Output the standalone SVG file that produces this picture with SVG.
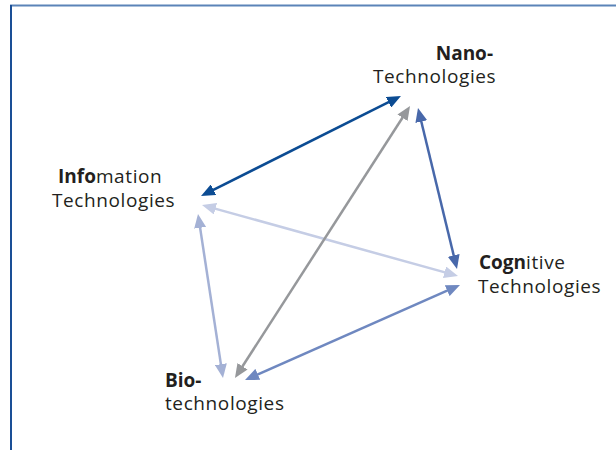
<svg xmlns="http://www.w3.org/2000/svg" width="616" height="450" viewBox="0 0 616 450">
  <style>
    .lbl { font-family: "Open Sans", "DejaVu Sans", sans-serif; font-size: 19px; fill: #231f20; letter-spacing: 0.6px; }
    .b { font-weight: bold; letter-spacing: 0; }
    .link { fill: none; stroke-width: 2.5; }
  </style>
  <defs>
    <marker id="ah-dark" markerUnits="userSpaceOnUse" viewBox="0 0 14 12" markerWidth="14" markerHeight="12" refX="8" refY="6" orient="auto-start-reverse"><path d="M0,0 L14,6 L0,12 z" fill="#0c4c93"/></marker>
    <marker id="ah-gray" markerUnits="userSpaceOnUse" viewBox="0 0 14 12" markerWidth="14" markerHeight="12" refX="8" refY="6" orient="auto-start-reverse"><path d="M0,0 L14,6 L0,12 z" fill="#96989b"/></marker>
    <marker id="ah-mid" markerUnits="userSpaceOnUse" viewBox="0 0 14 12" markerWidth="14" markerHeight="12" refX="8" refY="6" orient="auto-start-reverse"><path d="M0,0 L14,6 L0,12 z" fill="#4868aa"/></marker>
    <marker id="ah-pale" markerUnits="userSpaceOnUse" viewBox="0 0 14 12" markerWidth="14" markerHeight="12" refX="8" refY="6" orient="auto-start-reverse"><path d="M0,0 L14,6 L0,12 z" fill="#c5cde5"/></marker>
    <marker id="ah-soft" markerUnits="userSpaceOnUse" viewBox="0 0 14 12" markerWidth="14" markerHeight="12" refX="8" refY="6" orient="auto-start-reverse"><path d="M0,0 L14,6 L0,12 z" fill="#a4b1d5"/></marker>
    <marker id="ah-slate" markerUnits="userSpaceOnUse" viewBox="0 0 14 12" markerWidth="14" markerHeight="12" refX="8" refY="6" orient="auto-start-reverse"><path d="M0,0 L14,6 L0,12 z" fill="#6f88c0"/></marker>
  </defs>

  <!-- frame -->
  <g id="frame">
    <line x1="10" y1="5.5" x2="616" y2="5.5" stroke="#5b84b8" stroke-width="2"/>
    <line x1="11" y1="5" x2="11" y2="450" stroke="#1a4f96" stroke-width="2"/>
  </g>

  <!-- connectors -->
  <g id="connectors">
    <line class="link" x1="206.4" y1="193.3" x2="395.6" y2="98.7" stroke="#0c4c93" marker-start="url(#ah-dark)" marker-end="url(#ah-dark)"/>
    <line class="link" x1="207.8" y1="206.6" x2="452.2" y2="274.4" stroke="#c5cde5" marker-start="url(#ah-pale)" marker-end="url(#ah-pale)"/>
    <line class="link" x1="198.9" y1="219.9" x2="222.1" y2="372.1" stroke="#a4b1d5" marker-start="url(#ah-soft)" marker-end="url(#ah-soft)"/>
    <line class="link" x1="238.2" y1="373.0" x2="406.8" y2="111.0" stroke="#96989b" marker-start="url(#ah-gray)" marker-end="url(#ah-gray)"/>
    <line class="link" x1="419.4" y1="113.8" x2="455.6" y2="263.2" stroke="#4868aa" marker-start="url(#ah-mid)" marker-end="url(#ah-mid)"/>
    <line class="link" x1="250.5" y1="377.6" x2="454.5" y2="287.4" stroke="#6f88c0" marker-start="url(#ah-slate)" marker-end="url(#ah-slate)"/>
  </g>

  <!-- nodes -->
  <g id="nano">
    <text class="lbl b" x="493" y="60" text-anchor="end">Nano-</text>
    <text class="lbl" x="373" y="83">Technologies</text>
  </g>
  <g id="info">
    <text class="lbl" x="58" y="183"><tspan class="b">Info</tspan>mation</text>
    <text class="lbl" x="52" y="207">Technologies</text>
  </g>
  <g id="cognitive">
    <text class="lbl" x="479" y="269"><tspan class="b">Cogn</tspan>itive</text>
    <text class="lbl" x="478" y="293">Technologies</text>
  </g>
  <g id="bio">
    <text class="lbl b" x="165" y="387">Bio-</text>
    <text class="lbl" x="165" y="410">technologies</text>
  </g>
</svg>
